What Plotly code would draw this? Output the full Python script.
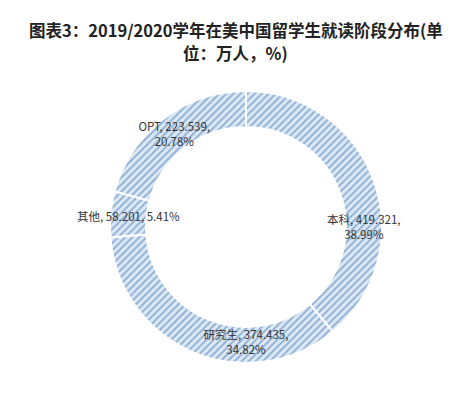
import plotly.graph_objects as go

labels = ["本科", "研究生", "其他", "OPT"]
values = [419.321, 374.435, 58.201, 223.539]
title_lines = ["图表3：2019/2020学年在美中国留学生就读阶段分布(单", "位：万人，%)"]

templates = [
    "%{label}, %{value:.3f},<br>%{percent:.2%}",
    "%{label}, %{value:.3f},<br>%{percent:.2%}",
    "%{label}, %{value:.3f}, %{percent:.2%}",
    "%{label}, %{value:.3f},<br>%{percent:.2%}",
]

fig = go.Figure(go.Pie(
    labels=labels,
    values=values,
    hole=0.735,
    sort=False,
    direction="clockwise",
    rotation=0,
    texttemplate=templates,
    textposition="inside",
    insidetextorientation="horizontal",
    textfont=dict(family="Noto Sans CJK SC, Liberation Sans", size=11.5, color="#333333"),
    marker=dict(
        colors=["#d4e3f3"] * 4,
        line=dict(color="white", width=2),
        pattern=dict(shape="/", fgcolor="#8eafd3", bgcolor="#dce8f5", size=5, solidity=0.35),
    ),
    showlegend=False,
    domain=dict(x=[0.224, 0.822], y=[0.106, 0.791]),
))

title_font = dict(family="Noto Sans CJK SC, Liberation Sans", size=16.5, color="#222222")
fig.update_layout(
    width=455, height=397,
    margin=dict(l=0, r=0, t=0, b=0),
    paper_bgcolor="white",
    uniformtext=dict(minsize=11.5, mode="show"),
    annotations=[
        dict(text="<b>" + title_lines[0] + "</b>", xref="paper", yref="paper",
             x=0.5, y=1, xanchor="center", yanchor="top", yshift=-8,
             showarrow=False, font=title_font),
        dict(text="<b>" + title_lines[1] + "</b>", xref="paper", yref="paper",
             x=0.5, y=1, xanchor="center", yanchor="top", yshift=-31,
             showarrow=False, font=title_font),
    ],
)

fig.write_html("out.html")
